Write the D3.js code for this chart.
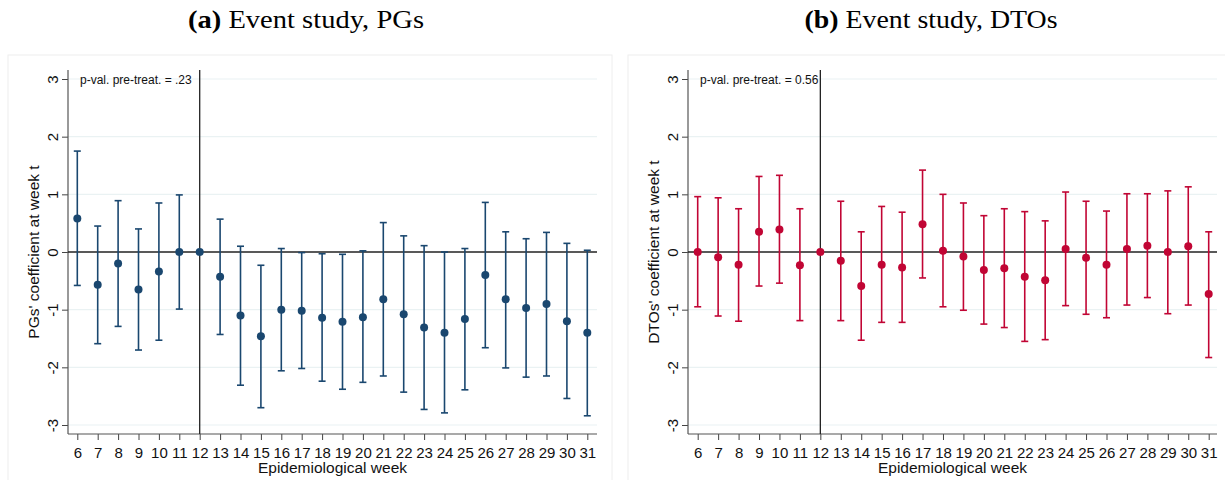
<!DOCTYPE html>
<html>
<head>
<meta charset="utf-8">
<script src="https://cdn.jsdelivr.net/npm/d3@7"></script>
<style>
  body { margin: 0; background: #fff; }
  text { font-family: "Liberation Sans", Arial, sans-serif; }
  .title { font-family: "Liberation Serif", "Times New Roman", serif; font-size: 26px; }
</style>
</head>
<body>
<svg width="1225" height="480"></svg>
<script>
// epidemiological weeks on the x axis
const weeks = d3.range(6, 32);
const yTicks = [-3, -2, -1, 0, 1, 2, 3];

// PGs: point estimate and 95% CI bounds (week 12 = reference, no bar)
const pgCoef = [0.58, -0.57, -0.20, -0.65, -0.34, 0.00, 0, -0.43, -1.10, -1.46, -1.00, -1.02, -1.14, -1.21, -1.13, -0.82, -1.08, -1.31, -1.40, -1.16, -0.40, -0.82, -0.97, -0.90, -1.20, -1.40];
const pgHi   = [1.75, 0.45, 0.89, 0.40, 0.85, 0.99, null, 0.57, 0.10, -0.23, 0.06, -0.01, -0.03, -0.04, 0.02, 0.51, 0.28, 0.11, 0.00, 0.06, 0.86, 0.35, 0.23, 0.34, 0.15, 0.03];
const pgLo   = [-0.58, -1.59, -1.29, -1.70, -1.53, -0.99, null, -1.43, -2.31, -2.70, -2.06, -2.02, -2.24, -2.38, -2.26, -2.15, -2.43, -2.73, -2.79, -2.39, -1.66, -2.01, -2.17, -2.15, -2.54, -2.84];

// DTOs
const dtoCoef = [0.00, -0.09, -0.22, 0.35, 0.39, -0.23, 0, -0.15, -0.59, -0.22, -0.27, 0.48, 0.02, -0.08, -0.31, -0.28, -0.43, -0.49, 0.05, -0.10, -0.22, 0.05, 0.11, 0.00, 0.10, -0.73];
const dtoHi   = [0.96, 0.94, 0.75, 1.31, 1.33, 0.75, null, 0.88, 0.35, 0.79, 0.69, 1.42, 1.00, 0.85, 0.63, 0.75, 0.70, 0.54, 1.04, 0.88, 0.71, 1.01, 1.01, 1.06, 1.13, 0.35];
const dtoLo   = [-0.95, -1.11, -1.20, -0.59, -0.54, -1.19, null, -1.19, -1.53, -1.22, -1.22, -0.45, -0.95, -1.01, -1.25, -1.31, -1.55, -1.52, -0.93, -1.08, -1.14, -0.92, -0.79, -1.07, -0.92, -1.83];

const svg = d3.select('svg');

const drawPanel = p => {
  const rows = weeks.map((w, i) => ({ week: w, coef: p.coef[i], hi: p.hi[i], lo: p.lo[i] }));

  const x = d3.scaleLinear().domain([6, 31]).range([p.x0, p.x1]);
  const y = d3.scaleLinear().domain([-3, 3]).range([425, 79]);
  const top = 70, bottom = 434;

  // graph region frame
  svg.append('rect')
    .attr('x', p.frameX).attr('y', 55)
    .attr('width', p.frameW).attr('height', 440)
    .attr('fill', 'none').attr('stroke', '#eeeeee');

  svg.append('text')
    .attr('class', 'title')
    .attr('x', p.titleX).attr('y', 28)
    .attr('text-anchor', 'middle')
    .attr('textLength', p.titleW)
    .attr('lengthAdjust', 'spacingAndGlyphs')
    .html(`<tspan font-weight="bold">${p.tag}</tspan> ${p.title}`);

  const g = svg.append('g');

  // gridlines
  g.selectAll('.grid').data(yTicks.filter(d => d !== 0))
    .enter().append('line')
      .attr('x1', p.axisX).attr('x2', p.right)
      .attr('y1', d => y(d)).attr('y2', d => y(d))
      .attr('stroke', '#eaf2f3').attr('stroke-width', 1.2);

  // y axis (hyphen minus like Stata)
  const yAxisG = g.append('g')
    .attr('transform', `translate(${p.axisX},0)`)
    .call(d3.axisLeft(y).tickValues(yTicks).tickSize(6).tickFormat(d => String(d)));
  yAxisG.select('.domain').remove();
  yAxisG.selectAll('line').attr('stroke', '#444');
  yAxisG.selectAll('text')
    .attr('font-size', 15).attr('fill', '#111')
    .attr('x', null).attr('dy', null).attr('y', 0)
    .attr('text-anchor', 'middle')
    .attr('dominant-baseline', 'central')
    .attr('transform', 'translate(-16,0) rotate(-90)');

  // x axis
  const xAxisG = g.append('g')
    .attr('transform', `translate(0,${bottom})`)
    .call(d3.axisBottom(x).tickValues(weeks).tickSize(6).tickPadding(7).tickFormat(d => String(d)));
  xAxisG.select('.domain').remove();
  xAxisG.selectAll('line').attr('stroke', '#444');
  xAxisG.selectAll('text').attr('font-size', 15).attr('fill', '#111');

  g.append('line')
    .attr('x1', p.axisX).attr('x2', p.axisX).attr('y1', top).attr('y2', bottom)
    .attr('stroke', '#555').attr('stroke-width', 1.2);
  g.append('line')
    .attr('x1', p.axisX).attr('x2', p.right).attr('y1', bottom).attr('y2', bottom)
    .attr('stroke', '#555').attr('stroke-width', 1.2);

  // reference lines
  g.append('line')
    .attr('x1', p.axisX).attr('x2', p.right).attr('y1', y(0)).attr('y2', y(0))
    .attr('stroke', '#222').attr('stroke-width', 1.3);
  g.append('line')
    .attr('x1', x(12)).attr('x2', x(12)).attr('y1', top).attr('y2', bottom)
    .attr('stroke', '#222').attr('stroke-width', 1.3);

  // axis titles
  g.append('text')
    .attr('transform', `translate(${p.axisX - 29},${y(0)}) rotate(-90)`)
    .attr('text-anchor', 'middle')
    .attr('font-size', 15.5).attr('fill', '#111')
    .text(p.yLabel);
  g.append('text')
    .attr('x', (p.axisX + p.right) / 2).attr('y', 473)
    .attr('text-anchor', 'middle')
    .attr('font-size', 15.5).attr('fill', '#111')
    .text('Epidemiological week');

  g.append('text')
    .attr('x', p.axisX + 12).attr('y', 84)
    .attr('font-size', 12).attr('fill', '#111')
    .text(p.note);

  // error bars
  const bars = rows.filter(d => d.hi !== null);
  const cap = 3.5;
  g.selectAll('.ci').data(bars)
    .enter().append('line')
      .attr('x1', d => x(d.week)).attr('x2', d => x(d.week))
      .attr('y1', d => y(d.hi)).attr('y2', d => y(d.lo))
      .attr('stroke', p.color).attr('stroke-width', 1.6);
  g.selectAll('.capHi').data(bars)
    .enter().append('line')
      .attr('x1', d => x(d.week) - cap).attr('x2', d => x(d.week) + cap)
      .attr('y1', d => y(d.hi)).attr('y2', d => y(d.hi))
      .attr('stroke', p.color).attr('stroke-width', 1.6);
  g.selectAll('.capLo').data(bars)
    .enter().append('line')
      .attr('x1', d => x(d.week) - cap).attr('x2', d => x(d.week) + cap)
      .attr('y1', d => y(d.lo)).attr('y2', d => y(d.lo))
      .attr('stroke', p.color).attr('stroke-width', 1.6);

  g.selectAll('circle').data(rows)
    .enter().append('circle')
      .attr('cx', d => x(d.week)).attr('cy', d => y(d.coef))
      .attr('r', 4)
      .attr('fill', p.color);
};

drawPanel({
  coef: pgCoef, hi: pgHi, lo: pgLo, color: '#1a476f',
  x0: 77.3, x1: 587.3, axisX: 68, right: 597,
  frameX: 8, frameW: 604, titleX: 306, titleW: 236,
  tag: '(a)', title: 'Event study, PGs',
  yLabel: "PGs' coefficient at week t",
  note: 'p-val. pre-treat. = .23'
});

drawPanel({
  coef: dtoCoef, hi: dtoHi, lo: dtoLo, color: '#c10534',
  x0: 697.7, x1: 1208.7, axisX: 688, right: 1217,
  frameX: 628, frameW: 604, titleX: 931, titleW: 253,
  tag: '(b)', title: 'Event study, DTOs',
  yLabel: "DTOs' coefficient at week t",
  note: 'p-val. pre-treat. = 0.56'
});
</script>
</body>
</html>
